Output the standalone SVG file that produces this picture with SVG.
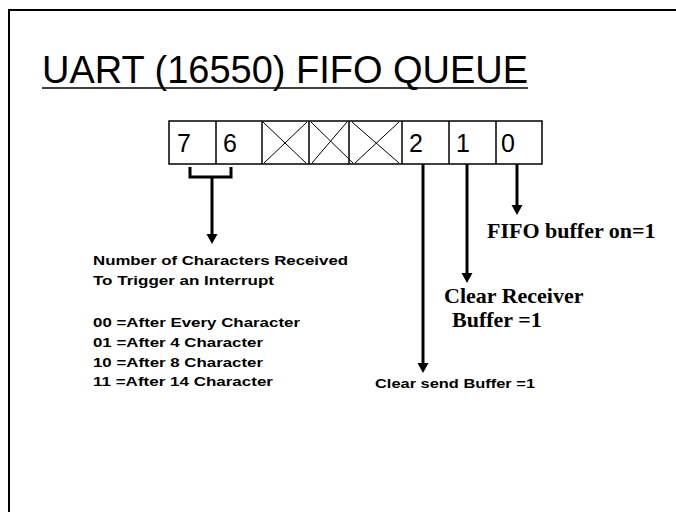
<svg xmlns="http://www.w3.org/2000/svg" width="676" height="512" viewBox="0 0 676 512">
<style>
.frame{fill:none;stroke:#000;stroke-width:2}
.cell{fill:#fff;stroke:#000;stroke-width:1.5}
.div{stroke:#000;stroke-width:1.5}
.x{stroke:#000;stroke-width:1}
.digit{font-family:"Liberation Sans",Arial,sans-serif;font-size:25px;fill:#000}
.title{font-family:"Liberation Sans",Arial,sans-serif;font-size:38.5px;fill:#000}
.arial{font-family:"Liberation Sans",Arial,sans-serif;font-size:13.5px;font-weight:bold;fill:#000}
.times{font-family:"Liberation Serif","Times New Roman",serif;font-size:22px;font-weight:bold;fill:#000}
.conn{fill:none;stroke:#000;stroke-width:3}
</style>
<defs>
<marker id="ah" markerUnits="userSpaceOnUse" markerWidth="11" markerHeight="12" refX="4" refY="6" orient="auto">
<path d="M0,0.5 L10,6 L0,11.5 z" fill="#000"/>
</marker>
</defs>
<rect width="676" height="512" fill="#fff"/>
<rect class="frame" x="9" y="10" width="700" height="520"/>
<g id="title">
<text class="title" x="42" y="83" textLength="486" lengthAdjust="spacingAndGlyphs">UART (16550) FIFO QUEUE</text>
<line x1="42" y1="88" x2="528" y2="88" stroke="#000" stroke-width="1.5"/>
</g>
<g id="register">
<rect class="cell" x="169" y="121" width="373" height="43"/>
<line class="div" x1="216" y1="121" x2="216" y2="164"/>
<line class="div" x1="262" y1="121" x2="262" y2="164"/>
<line class="div" x1="309" y1="121" x2="309" y2="164"/>
<line class="div" x1="349" y1="121" x2="349" y2="164"/>
<line class="div" x1="402" y1="121" x2="402" y2="164"/>
<line class="div" x1="449" y1="121" x2="449" y2="164"/>
<line class="div" x1="496" y1="121" x2="496" y2="164"/>
<line class="x" x1="263" y1="122" x2="306" y2="163"/>
<line class="x" x1="307" y1="122" x2="264" y2="163"/>
<line class="x" x1="311" y1="122" x2="353" y2="163"/>
<line class="x" x1="347" y1="122" x2="312" y2="163"/>
<line class="x" x1="352" y1="122" x2="399" y2="163"/>
<line class="x" x1="399" y1="122" x2="355" y2="163"/>
<text class="digit" x="177" y="152">7</text>
<text class="digit" x="223" y="152">6</text>
<text class="digit" x="409" y="152">2</text>
<text class="digit" x="456" y="152">1</text>
<text class="digit" x="501" y="152">0</text>
</g>
<g id="connectors">
<path class="conn" d="M190,167 V177 H231 V167"/>
<line class="conn" x1="212" y1="177" x2="212" y2="238" marker-end="url(#ah)"/>
<line class="conn" x1="423" y1="164" x2="423" y2="367" marker-end="url(#ah)"/>
<line class="conn" x1="467" y1="164" x2="467" y2="277" marker-end="url(#ah)"/>
<line class="conn" x1="517" y1="164" x2="517" y2="209" marker-end="url(#ah)"/>
</g>
<g id="trigger-label">
<text class="arial" x="93" y="265" textLength="255" lengthAdjust="spacingAndGlyphs">Number of Characters Received</text>
<text class="arial" x="93" y="284.5" textLength="181" lengthAdjust="spacingAndGlyphs">To Trigger an Interrupt</text>
<text class="arial" x="93" y="326.5" textLength="207" lengthAdjust="spacingAndGlyphs">00 =After Every Character</text>
<text class="arial" x="93" y="346.5" textLength="170" lengthAdjust="spacingAndGlyphs">01 =After 4 Character</text>
<text class="arial" x="93" y="366.5" textLength="170" lengthAdjust="spacingAndGlyphs">10 =After 8 Character</text>
<text class="arial" x="93" y="386" textLength="180" lengthAdjust="spacingAndGlyphs">11 =After 14 Character</text>
</g>
<g id="bit0-label">
<text class="times" x="487" y="238">FIFO buffer on=1</text>
</g>
<g id="bit1-label">
<text class="times" x="444" y="303">Clear Receiver</text>
<text class="times" x="452" y="327">Buffer =1</text>
</g>
<g id="bit2-label">
<text class="arial" x="375" y="388" textLength="160" lengthAdjust="spacingAndGlyphs">Clear send Buffer =1</text>
</g>
</svg>
